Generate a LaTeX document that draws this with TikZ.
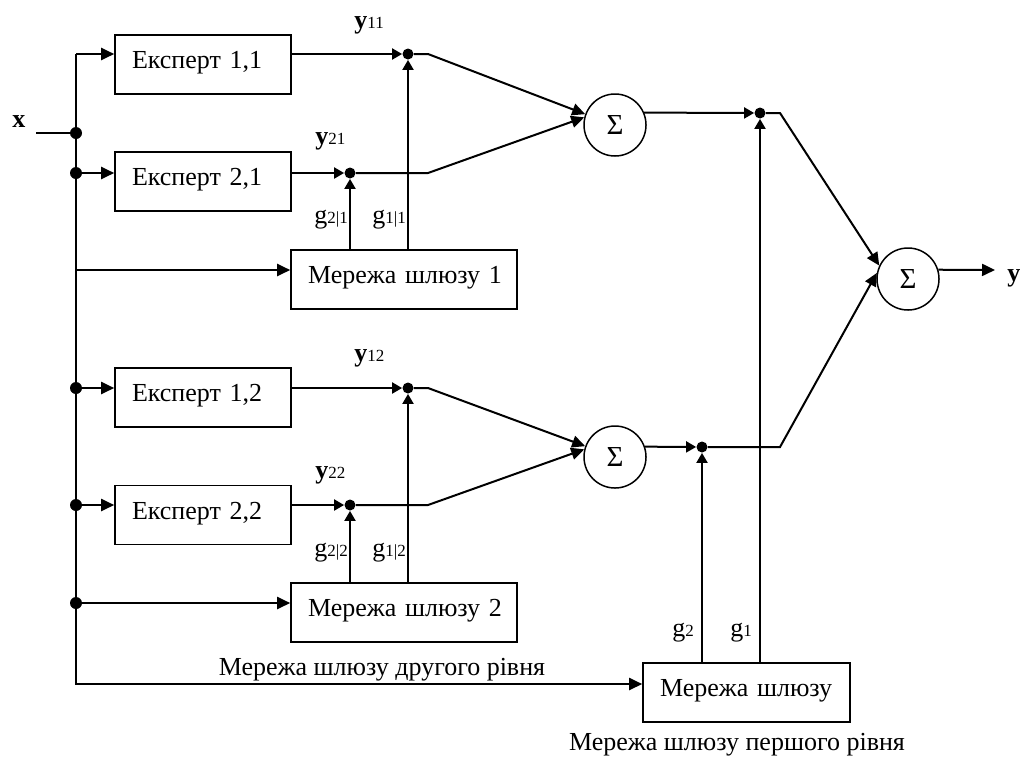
\documentclass[tikz,border=0pt]{standalone}
\usepackage{fontspec}
\setmainfont{Liberation Serif}
\usetikzlibrary{arrows.meta}

% symbol with a small index set on the baseline
\newcommand{\withsub}[2]{#1{\fontsize{8.5}{9}\selectfont #2}}

\begin{document}
\begin{tikzpicture}[
  x=0.5pt, y=-0.5pt,
  font=\fontsize{13}{15}\selectfont,
  blk/.style={draw, line width=0.8pt, align=left, inner xsep=0pt, inner ysep=0pt,
              minimum height=29.5pt, text height=8.6pt, text depth=4.5pt},
  expert/.style={blk, text width=88pt},
  gate/.style={blk, text width=113pt},
  summ/.style={draw, circle, line width=0.75pt, minimum size=31pt, inner sep=0pt,
               font=\fontsize{14.5}{16}\selectfont},
  tap/.style={circle, fill, inner sep=0pt, minimum size=6pt},
  mul/.style={circle, fill, inner sep=0pt, minimum size=5.5pt},
  wire/.style={line width=1pt},
  ar/.style={wire, -{Triangle[length=6.5pt, width=6pt]}},
  arm/.style={wire, -{Triangle[length=5pt, width=5.5pt]}},
  sig/.style={anchor=base west, inner sep=0pt}
]
\useasboundingbox (0,0) rectangle (1020,756);

% ---- experts and gating networks ----
\node[expert] (E11) at (203, 64.5)  {\hspace*{8.5pt}Експерт 1,1};
\node[expert] (E21) at (203, 181.5) {\hspace*{8.5pt}Експерт 2,1};
\node[gate]   (G1)  at (404, 279.5) {\hspace*{8.5pt}Мережа шлюзу 1};
\node[expert] (E12) at (203, 397.5) {\hspace*{8.5pt}Експерт 1,2};
\node[expert] (E22) at (203, 515)   {\hspace*{8.5pt}Експерт 2,2};
\node[gate]   (G2)  at (404, 612.5) {\hspace*{8.5pt}Мережа шлюзу 2};
\node[blk, text width=103.5pt] (G0) at (746.5, 692.5) {\hspace*{8.5pt}Мережа шлюзу};

% ---- adders ----
\node[summ] (S1) at (615, 125) {Σ};
\node[summ] (S2) at (615, 457) {Σ};
\node[summ] (S3) at (908, 279) {Σ};

% ---- multiplication points ----
\node[mul] (m11) at (408, 54)  {};
\node[mul] (m21) at (350, 173) {};
\node[mul] (m12) at (408, 388) {};
\node[mul] (m22) at (350, 505) {};
\node[mul] (m1)  at (760, 113) {};
\node[mul] (m2)  at (702, 447) {};

% ---- input bus ----
\coordinate (xin)  at (36, 133);
\coordinate (btop) at (76, 54);
\coordinate (bg1)  at (76, 270);
\coordinate (bbot) at (76, 684);
\coordinate (yout) at (995, 270);
\node[tap] (b0)  at (76, 133) {};
\node[tap] (b21) at (76, 173) {};
\node[tap] (b12) at (76, 388) {};
\node[tap] (b22) at (76, 505) {};
\node[tap] (bg2) at (76, 603) {};

\draw[wire] (xin) -- (b0);
\draw[ar] (btop) -- (E11.west |- btop);
\draw[ar] (btop) -- (bbot) -- (G0.west |- bbot);
\foreach \b/\e in {b21/E21, bg1/G1, b12/E12, b22/E22, bg2/G2}
  \draw[ar] (\b) -- (\e.west |- \b);

% expert outputs and gate weights
\foreach \e/\m in {E11/m11, E21/m21, E12/m12, E22/m22}
  \draw[arm] (\e.east |- \m) -- (\m);
\foreach \g/\m in {G1/m21, G1/m11, G2/m22, G2/m12, G0/m2, G0/m1}
  \draw[arm] (\g.north -| \m) -- (\m);

% into the adders
\draw[ar] (m11) -- ++(20,0) -- (S1.160);
\draw[ar] (m21) -- (428, 173) -- (S1.166);
\draw[ar] (m12) -- ++(20,0) -- (S2.160);
\draw[ar] (m22) -- (428, 505) -- (S2.166);
\draw[arm] (S1.23) -- (m1);
\draw[arm] (S2.19) -- (m2);
\draw[ar] (m1) -- (780, 113) -- (S3.155);
\draw[ar] (m2) -- (780, 447) -- (S3.169);
\draw[ar] (S3.17) -- (yout);

% ---- signal labels ----
\node[sig, font=\fontsize{13}{15}\selectfont\bfseries] (lx) at (12, 127) {x};
\node[sig, font=\fontsize{13}{15}\selectfont\bfseries] (ly) at (1007, 281) {y};
\node[sig] (ly11) at (354, 28)  {\withsub{\textbf{y}}{11}};
\node[sig] (ly21) at (315, 144) {\withsub{\textbf{y}}{21}};
\node[sig] (ly12) at (354, 361) {\withsub{\textbf{y}}{12}};
\node[sig] (ly22) at (315, 478) {\withsub{\textbf{y}}{22}};
\node[sig] (lg21) at (314, 223) {\withsub{g}{2|1}};
\node[sig] (lg11) at (372, 223) {\withsub{g}{1|1}};
\node[sig] (lg22) at (314, 556) {\withsub{g}{2|2}};
\node[sig] (lg12) at (372, 556) {\withsub{g}{1|2}};
\node[sig] (lg2)  at (672, 636) {\withsub{g}{2}};
\node[sig] (lg1)  at (730, 636) {\withsub{g}{1}};

\node[anchor=base, inner sep=0pt] (lvl2) at (382, 675) {Мережа шлюзу другого рівня};
\node[anchor=base, inner sep=0pt] (lvl1) at (737, 750) {Мережа шлюзу першого рівня};

\end{tikzpicture}
\end{document}
